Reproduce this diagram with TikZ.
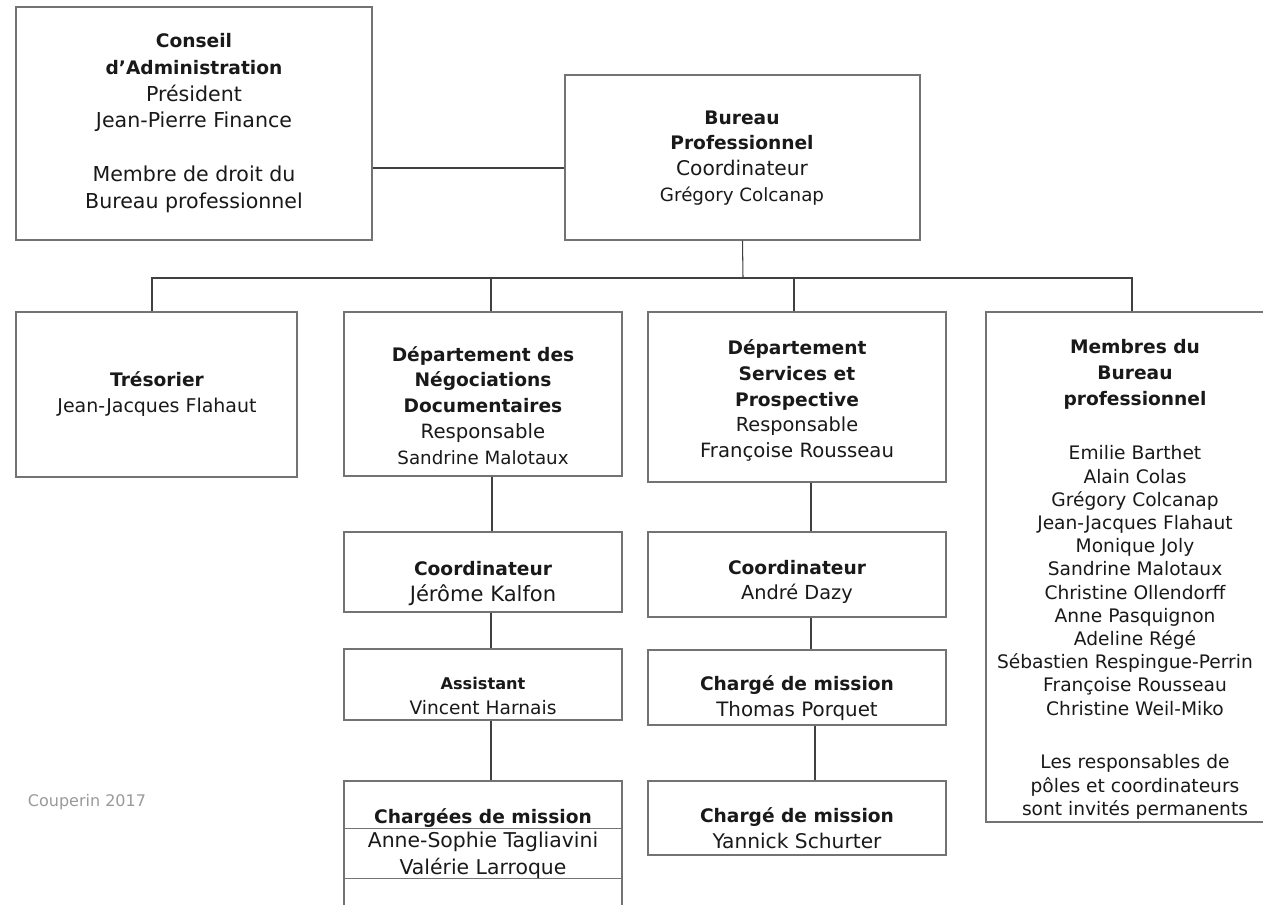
\documentclass[tikz,border=0pt]{standalone}
\usepackage{fontspec}
\setmainfont{DejaVu Sans}
\usetikzlibrary{fit}
\newcommand{\taille}[2]{{\fontsize{#1}{14.7}\selectfont #2}}

\begin{document}
\begin{tikzpicture}[x=0.2mm, y=-0.2mm,
    box/.style={draw=black!55, line width=0.8pt, inner sep=0pt},
    txt/.style={align=center, text=black!90, font=\fontsize{10.6}{14.7}\selectfont},
    liste/.style={align=center, text=black!90, font=\fontsize{10.6}{13.2}\selectfont},
    lien/.style={draw=black!75, line width=0.6pt}]
    \useasboundingbox (0,0) rectangle (1263,905);
    \clip (0,0) rectangle (1263,905);

    \node[box, fit={(16,7) (372,240)}] (conseil) {};
    \node[box, fit={(565,75) (920,240)}] (bureau) {};
    \node[box, fit={(16,312) (297,477)}] (tresorier) {};
    \node[box, fit={(344,312) (622,476)}] (nego) {};
    \node[box, fit={(648,312) (946,482)}] (services) {};
    \node[box, fit={(986,312) (1284,822)}] (membres) {};
    \node[box, fit={(344,532) (622,612)}] (jerome) {};
    \node[box, fit={(648,532) (946,617)}] (andre) {};
    \node[box, fit={(344,649) (622,720)}] (assistant) {};
    \node[box, fit={(648,650) (946,725)}] (thomas) {};
    \node[box, fit={(344,781) (622,930)}] (chargees) {};
    \node[box, fit={(648,781) (946,855)}] (yannick) {};

    \node[txt, font=\fontsize{10.6}{15.2}\selectfont] (conseiltxt) at (194,123) {\textbf{Conseil}\\\textbf{d’Administration}\\\taille{11.7}{Président}\\\taille{11.7}{Jean-Pierre Finance}\\[0.54cm]\taille{11.7}{Membre de droit du}\\\taille{11.7}{Bureau professionnel}};
    \node[txt] (bureautxt) at (742,158) {\textbf{Bureau}\\\textbf{Professionnel}\\\taille{11.5}{Coordinateur}\\\taille{10.4}{Grégory Colcanap}};
    \node[txt] (tresoriertxt) at (157,394) {\textbf{Trésorier}\\\taille{10.8}{Jean-Jacques Flahaut}};
    \node[txt] (negotxt) at (483,405.5) {\textbf{Département des}\\\textbf{Négociations}\\\textbf{Documentaires}\\\taille{11.2}{Responsable}\\\taille{10.4}{Sandrine Malotaux}};
    \node[txt] (servicestxt) at (797,400.5) {\textbf{Département}\\\textbf{Services et}\\\textbf{Prospective}\\\taille{11}{Responsable}\\\taille{11.2}{Françoise Rousseau}};
    \node[txt] (membrestitre) at (1135,374.5) {\textbf{Membres du}\\\textbf{Bureau}\\\textbf{professionnel}};
    \node[liste] (membresnoms) at (1135,580.5) {Emilie Barthet\\Alain Colas\\Grégory Colcanap\\Jean-Jacques Flahaut\\Monique Joly\\Sandrine Malotaux\\Christine Ollendorff\\Anne Pasquignon\\Adeline Régé\\\makebox[5.52cm][l]{Sébastien Respingue-Perrin}\\Françoise Rousseau\\Christine Weil-Miko};
    \node[liste] (membresnote) at (1135,787) {Les responsables de\\pôles et coordinateurs\\sont invités permanents};
    \node[txt] (jerometxt) at (483,583.5) {\textbf{Coordinateur}\\\taille{12}{Jérôme Kalfon}};
    \node[txt] (andretxt) at (797,582) {\textbf{Coordinateur}\\\taille{11}{André Dazy}};
    \node[txt, font=\fontsize{10.6}{13.9}\selectfont] (assistanttxt) at (483,696) {\textbf{\fontsize{9.2}{13.9}\selectfont Assistant}\\Vincent Harnais};
    \node[txt] (thomastxt) at (797,698) {\textbf{Chargé de mission}\\\taille{11.3}{Thomas Porquet}};
    \node[txt] (chargeestitre) at (483,818) {\textbf{Chargées de mission}};
    \node[txt, font=\fontsize{10.6}{15.4}\selectfont] (chargeesnoms) at (483,855.5) {\taille{11.6}{Anne-Sophie Tagliavini}\\\taille{11.6}{Valérie Larroque}};
    \node[txt] (yannicktxt) at (797,828.5) {\textbf{Chargé de mission}\\\taille{11.5}{Yannick Schurter}};
    \node[text=black!40, font=\fontsize{9.1}{11}\selectfont] (couperin) at (87,802) {Couperin 2017};

    \coordinate (fourche) at (743,278);
    \coordinate (cb) at ([yshift=-0.21cm]bureau.west);
    \draw[lien] (cb) -- (cb -| conseil.east);
    \draw[lien] (bureau.south) -- (fourche);
    \draw[lien] ([xshift=-0.09cm]tresorier.north) |- (fourche);
    \draw[lien] ([xshift=0.16cm]nego.north) |- (fourche);
    \draw[lien] ([xshift=-0.06cm]services.north) |- (fourche);
    \draw[lien] ([xshift=-0.06cm]membres.north) |- (fourche);
    \draw[lien] ([xshift=0.18cm]nego.south) -- ([xshift=0.18cm]jerome.north);
    \draw[lien] ([xshift=0.16cm]jerome.south) -- ([xshift=0.16cm]assistant.north);
    \draw[lien] ([xshift=0.16cm]assistant.south) -- ([xshift=0.16cm]chargees.north);
    \draw[lien] ([xshift=0.28cm]services.south) -- ([xshift=0.28cm]andre.north);
    \draw[lien] ([xshift=0.28cm]andre.south) -- ([xshift=0.28cm]thomas.north);
    \draw[lien] ([xshift=0.36cm]thomas.south) -- ([xshift=0.36cm]yannick.north);
    \draw[box] ([yshift=-0.96cm]chargees.north west) -- ([yshift=-0.96cm]chargees.north east);
    \draw[box] ([yshift=-1.96cm]chargees.north west) -- ([yshift=-1.96cm]chargees.north east);
\end{tikzpicture}
\end{document}
